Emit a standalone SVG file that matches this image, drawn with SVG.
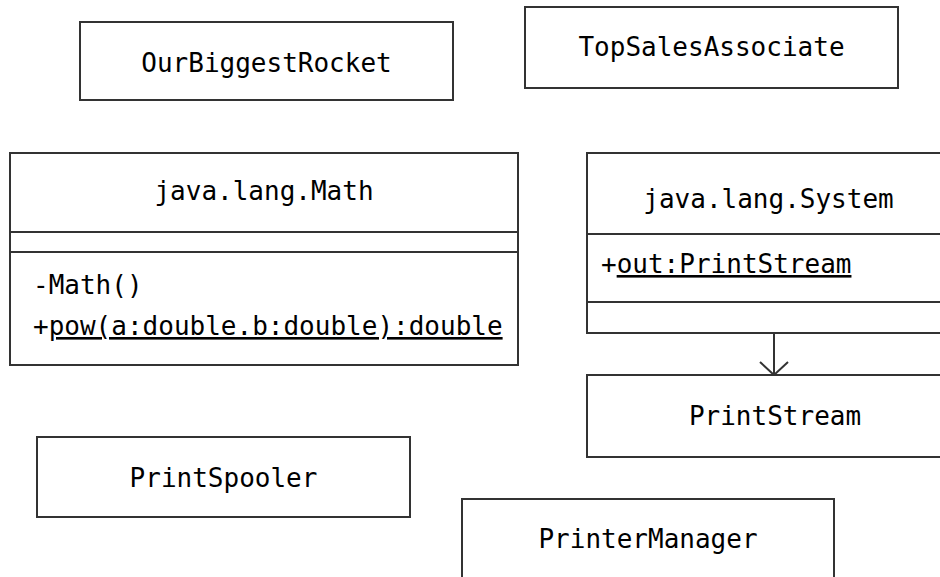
<svg xmlns="http://www.w3.org/2000/svg" width="940" height="577" viewBox="0 0 940 577">
<style>
.box{fill:#fff;stroke:#333;stroke-width:2}
.div{stroke:#333;stroke-width:2}
text{font-family:"DejaVu Sans Mono","Liberation Mono",monospace;font-size:26px;fill:#000}
.c{text-anchor:middle}
.u{text-decoration:underline}
.conn{stroke:#333;stroke-width:2;fill:none}
</style>
<defs>
<marker id="open" viewBox="0 0 16 32" refX="15" refY="16" markerWidth="16" markerHeight="32" markerUnits="userSpaceOnUse" orient="auto">
<path d="M2,2 L15,16 L2,30" fill="none" stroke="#333" stroke-width="2"/>
</marker>
</defs>
<rect width="940" height="577" fill="#fff"/>
<g id="OurBiggestRocket">
<rect class="box" x="80" y="22" width="373" height="78"/>
<text class="c" x="266.5" y="72">OurBiggestRocket</text>
</g>
<g id="TopSalesAssociate">
<rect class="box" x="525" y="7" width="373" height="81"/>
<text class="c" x="711.5" y="56">TopSalesAssociate</text>
</g>
<g id="Math">
<rect class="box" x="10" y="153" width="508" height="212"/>
<line class="div" x1="10" y1="232" x2="518" y2="232"/>
<line class="div" x1="10" y1="252" x2="518" y2="252"/>
<text class="c" x="264" y="200">java.lang.Math</text>
<text x="33" y="294">-Math()</text>
<text x="33" y="335">+<tspan class="u">pow(a:double.b:double):double</tspan></text>
</g>
<g id="System">
<rect class="box" x="587" y="153" width="380" height="180"/>
<line class="div" x1="587" y1="234" x2="967" y2="234"/>
<line class="div" x1="587" y1="302" x2="967" y2="302"/>
<text class="c" x="768.5" y="208">java.lang.System</text>
<text x="601" y="273">+<tspan class="u">out:PrintStream</tspan></text>
</g>
<g id="PrintStream">
<rect class="box" x="587" y="375" width="380" height="82"/>
<text class="c" x="775" y="425">PrintStream</text>
</g>
<g id="PrintSpooler">
<rect class="box" x="37" y="437" width="373" height="80"/>
<text class="c" x="223.5" y="487">PrintSpooler</text>
</g>
<g id="PrinterManager">
<rect class="box" x="462" y="499" width="372" height="100"/>
<text class="c" x="648" y="548">PrinterManager</text>
</g>
<g id="connectors">
<path class="conn" d="M774,333 L774,375" marker-end="url(#open)"/>
</g>
</svg>
